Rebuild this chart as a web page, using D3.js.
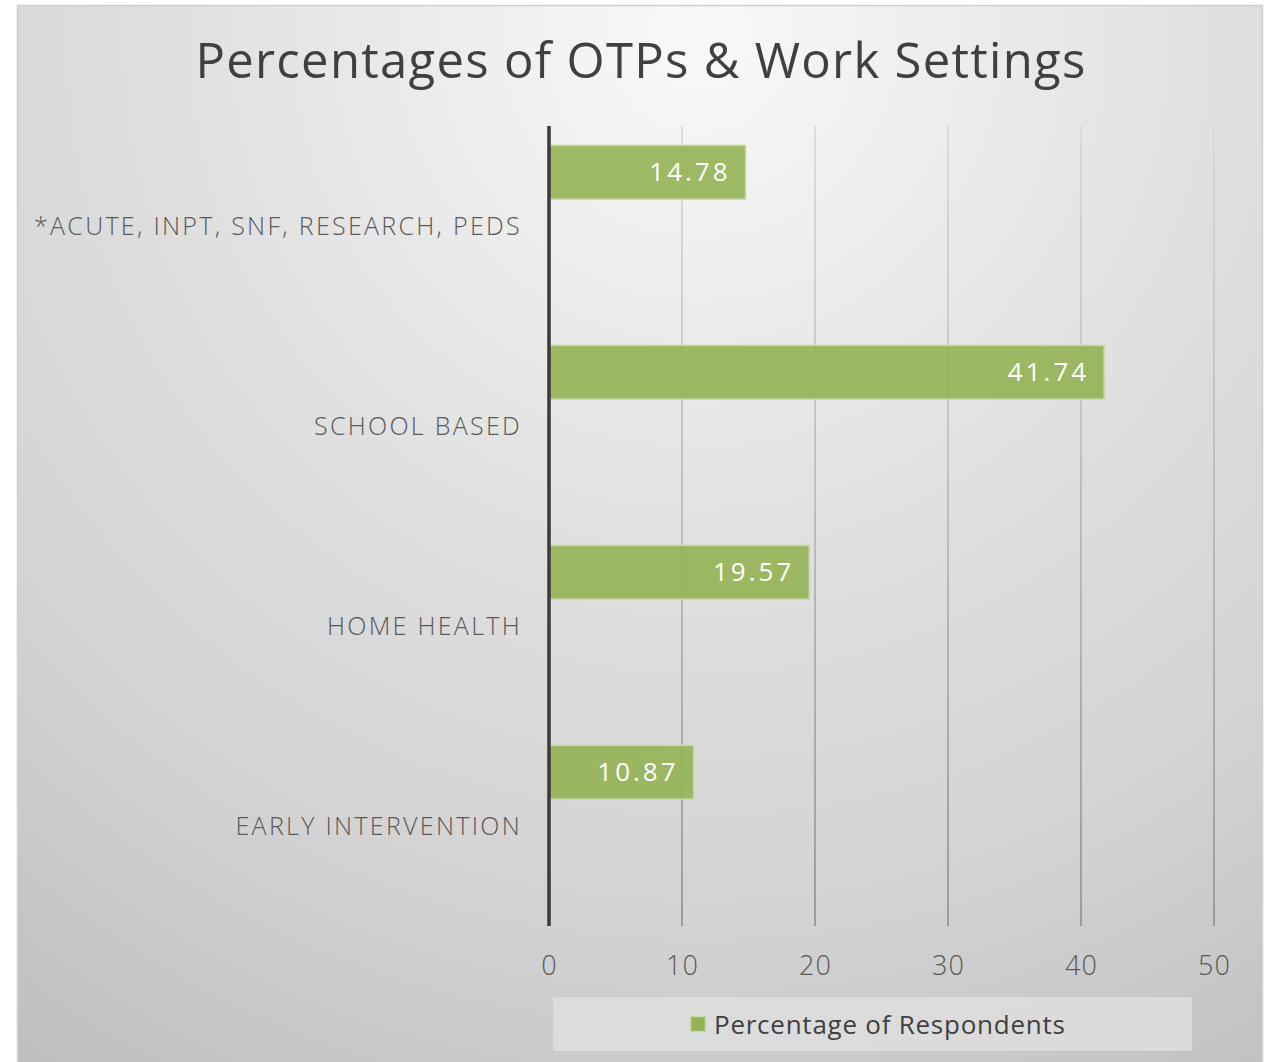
<!DOCTYPE html>
<html><head><meta charset="utf-8">
<script src="https://cdn.jsdelivr.net/npm/d3@7"></script>
<style>html,body{margin:0;padding:0;background:#fff;} svg{display:block;}</style>
</head><body>
<script>
const categories = ["*ACUTE, INPT, SNF, RESEARCH, PEDS", "SCHOOL BASED", "HOME HEALTH", "EARLY INTERVENTION"];
const values = [14.78, 41.74, 19.57, 10.87];
const tickValues = [0, 10, 20, 30, 40, 50];
const seriesName = "Percentage of Respondents";
const title = "Percentages of OTPs & Work Settings";

const W = 1271, H = 1062;
const svg = d3.select("body").append("svg").attr("width", W).attr("height", H);
const defs = svg.append("defs");
const rg = defs.append("radialGradient").attr("id","bg").attr("gradientUnits","userSpaceOnUse")
  .attr("cx",700).attr("cy",40).attr("r",1250);
[[0,"#f9f9f9"],[0.45,"#dedede"],[0.7,"#d3d3d3"],[1,"#bdbdbd"]].forEach(([o,c])=>rg.append("stop").attr("offset",o).attr("stop-color",c));
const lg = defs.append("linearGradient").attr("id","grid").attr("gradientUnits","userSpaceOnUse")
  .attr("x1",0).attr("y1",126).attr("x2",0).attr("y2",926);
[[0,"#d6d6d6"],[1,"#8a8a8a"]].forEach(([o,c])=>lg.append("stop").attr("offset",o).attr("stop-color",c));

svg.append("rect").attr("x",17.5).attr("y",5.5).attr("width",1245).attr("height",1070)
  .attr("fill","url(#bg)").attr("stroke","#cfcfcf").attr("stroke-width",1.5);

const font = "'Open Sans', 'Noto Sans', sans-serif";
svg.append("text").attr("x",641).attr("y",78).attr("text-anchor","middle")
  .attr("font-family",font).attr("font-size",49).attr("fill","#404040").attr("letter-spacing",1.3)
  .text(title);

const x = d3.scaleLinear().domain([0,50]).range([549,1214]);
const y = d3.scaleBand().domain(categories).range([126,926]);
const inner = d3.scaleBand().domain([0,1,2]).range([0,y.bandwidth()]).paddingOuter(0.36);

// gridlines
svg.append("g").selectAll("line").data(tickValues.filter(d=>d>0)).join("line")
  .attr("x1",d=>x(d)).attr("x2",d=>x(d)).attr("y1",126).attr("y2",926)
  .attr("stroke","url(#grid)").attr("stroke-width",1.5);

// bars
svg.append("g").selectAll("rect").data(values).join("rect")
  .attr("x",x(0)).attr("y",(d,i)=>y(categories[i])+inner(0))
  .attr("width",d=>x(d)-x(0)).attr("height",inner.bandwidth())
  .attr("fill","#94b254").attr("fill-opacity",0.9).attr("stroke","#c9d9a6").attr("stroke-width",1.5);

// data labels
svg.append("g").selectAll("text").data(values).join("text")
  .attr("x",d=>x(d)-15).attr("y",(d,i)=>y(categories[i])+inner(0)+inner.bandwidth()/2+9)
  .attr("text-anchor","end").attr("font-family",font).attr("font-size",26).attr("fill","#ffffff")
  .attr("letter-spacing",3).text(d=>d.toFixed(2));

// axis line
svg.append("line").attr("x1",x(0)).attr("x2",x(0)).attr("y1",126).attr("y2",926)
  .attr("stroke","#3a3a3a").attr("stroke-width",3.5);

// category labels
const yAxis = d3.axisLeft(y).tickSize(0).tickPadding(27);
const ya = svg.append("g").attr("transform",`translate(${x(0)},0)`).call(yAxis);
ya.select(".domain").remove();
ya.selectAll("text").attr("font-family",font).attr("font-size",25).attr("fill","#595959")
  .attr("dy","0.36em").attr("letter-spacing",2.3).attr("font-weight",300);

// x tick labels
const xAxis = d3.axisBottom(x).tickValues(tickValues).tickSize(0).tickPadding(0);
const xa = svg.append("g").attr("transform","translate(0,975)").call(xAxis);
xa.select(".domain").remove();
xa.selectAll("text").attr("dy",0).attr("font-family",font).attr("font-size",27).attr("fill","#595959")
  .attr("letter-spacing",1).attr("font-weight",300);

// legend
const leg = svg.append("g");
leg.append("rect").attr("x",553).attr("y",997).attr("width",639).attr("height",54).attr("fill","#e2e2e2").attr("fill-opacity",0.7);
leg.append("rect").attr("x",690.5).attr("y",1016.5).attr("width",15).attr("height",15)
  .attr("fill","#94b254").attr("stroke","#c9d9a6").attr("stroke-width",1.5);
leg.append("text").attr("x",714).attr("y",1034).attr("font-family",font).attr("font-size",26)
  .attr("fill","#404040").attr("letter-spacing",0.75).text(seriesName);
</script>
</body></html>
